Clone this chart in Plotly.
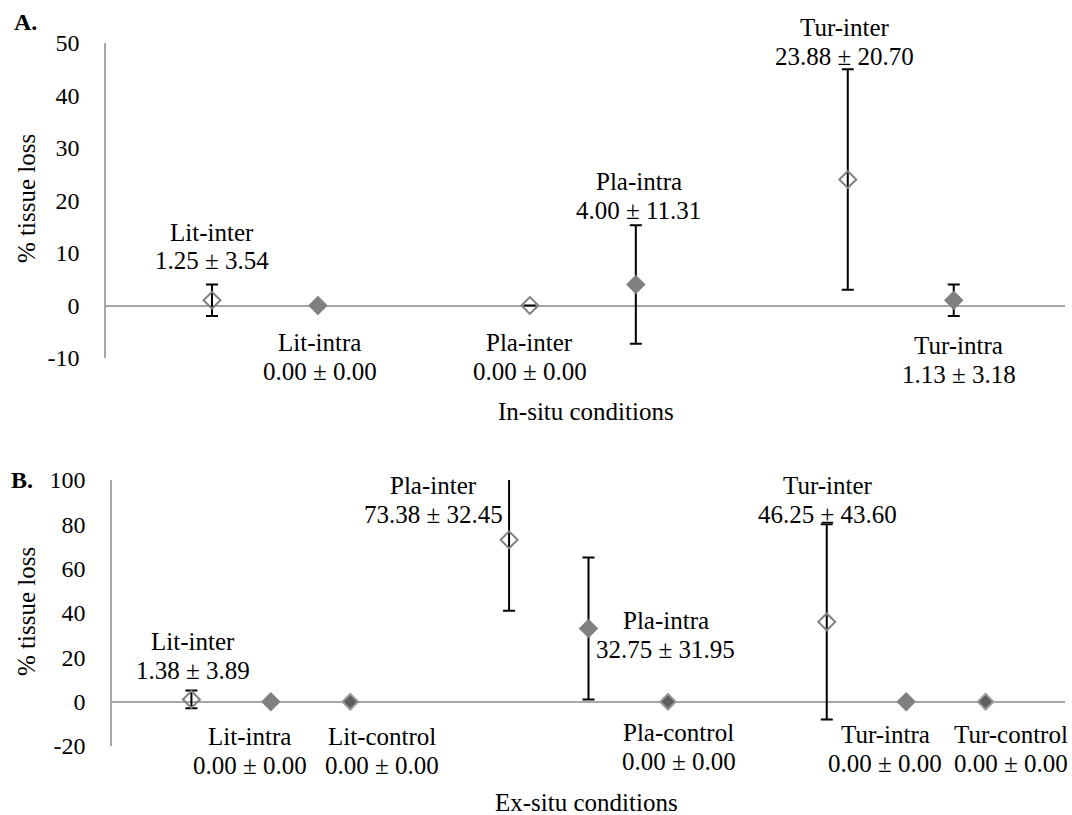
import plotly.graph_objects as go

# ---------------- data ----------------
# Panel A (in-situ)
a_inter_names = ["Lit-inter", "Pla-inter", "Tur-inter"]
a_inter_x = [2, 5, 8]
a_inter_y = [1, 0, 24]
a_inter_err = [3, 0, 21]
a_inter_stats = ["1.25 ± 3.54", "0.00 ± 0.00", "23.88 ± 20.70"]

a_intra_names = ["Lit-intra", "Pla-intra", "Tur-intra"]
a_intra_x = [3, 6, 9]
a_intra_y = [0, 4, 1]
a_intra_err = [0, 11.3, 3]
a_intra_stats = ["0.00 ± 0.00", "4.00 ± 11.31", "1.13 ± 3.18"]

# Panel B (ex-situ)
b_inter_names = ["Lit-inter", "Pla-inter", "Tur-inter"]
b_inter_x = [2, 6, 10]
b_inter_y = [1, 73, 36]
b_inter_err = [4, 32, 44]
b_inter_stats = ["1.38 ± 3.89", "73.38 ± 32.45", "46.25 ± 43.60"]

b_intra_names = ["Lit-intra", "Pla-intra", "Tur-intra"]
b_intra_x = [3, 7, 11]
b_intra_y = [0, 33, 0]
b_intra_err = [0, 32, 0]
b_intra_stats = ["0.00 ± 0.00", "32.75 ± 31.95", "0.00 ± 0.00"]

b_ctrl_names = ["Lit-control", "Pla-control", "Tur-control"]
b_ctrl_x = [4, 8, 12]
b_ctrl_y = [0, 0, 0]
b_ctrl_err = [0, 0, 0]
b_ctrl_stats = ["0.00 ± 0.00", "0.00 ± 0.00", "0.00 ± 0.00"]

a_ticks = [-10, 0, 10, 20, 30, 40, 50]
a_ticktext = ["-10", "0", "10", "20", "30", "40", "50"]
b_ticks = [-20, 0, 20, 40, 60, 80, 100]
b_ticktext = ["-20", "0", "20", "40", "60", "80", "100"]

# ---------------- layout helpers ----------------
W, H = 1072, 815
FONT = "Liberation Serif, Times New Roman, serif"
GRAY = "#808080"
AXIS = "#a6a6a6"

def px(x):
    return x / W

def py(y):
    return 1 - y / H

fig = go.Figure()

def add_series(x, y, err, xa, ya, style):
    if style == "open":
        marker = dict(symbol="diamond", size=13, color="rgba(255,255,255,0)",
                      line=dict(color=GRAY, width=2))
    elif style == "filled":
        marker = dict(symbol="diamond", size=15, color=GRAY,
                      line=dict(color=GRAY, width=0))
    else:
        marker = dict(symbol="diamond", size=12, color="#5e5e5e",
                      line=dict(color="#9a9a9a", width=2))
    fig.add_trace(go.Scatter(
        x=x, y=y, mode="markers", xaxis=xa, yaxis=ya, marker=marker,
        error_y=dict(type="data", array=err, visible=True, color="black",
                     thickness=2, width=6),
        showlegend=False, hoverinfo="skip"))

add_series(a_inter_x, a_inter_y, a_inter_err, "x", "y", "open")
add_series(a_intra_x, a_intra_y, a_intra_err, "x", "y", "filled")
add_series(b_inter_x, b_inter_y, b_inter_err, "x2", "y2", "open")
add_series(b_intra_x, b_intra_y, b_intra_err, "x2", "y2", "filled")
add_series(b_ctrl_x, b_ctrl_y, b_ctrl_err, "x2", "y2", "ctrl")

yaxis_common = dict(showline=True, linecolor=AXIS, linewidth=1.5,
                    zeroline=True, zerolinecolor=AXIS, zerolinewidth=1.5,
                    showgrid=False, ticks="", ticklabelstandoff=20, automargin=False,
                    tickfont=dict(family=FONT, size=24, color="black"))
xaxis_common = dict(visible=False, showgrid=False, zeroline=False, automargin=False)

fig.update_layout(
    template="none",
    width=W, height=H, margin=dict(l=0, r=0, t=0, b=0, pad=0),
    paper_bgcolor="white", plot_bgcolor="white", showlegend=False,
    xaxis=dict(domain=[px(106), px(1065)], range=[1, 10.05], anchor="y", **xaxis_common),
    yaxis=dict(domain=[py(358), py(43)], range=[-10, 50], tickvals=a_ticks,
               ticktext=a_ticktext, anchor="x", **yaxis_common),
    xaxis2=dict(domain=[px(112), px(1065)], range=[1, 13], anchor="y2", **xaxis_common),
    yaxis2=dict(domain=[py(746), py(480)], range=[-20, 100], tickvals=b_ticks,
                ticktext=b_ticktext, anchor="x2", **yaxis_common),
)

def label(xref, xval, dx, y1, name, stats):
    for txt, yy in ((name, y1), (stats, y1 + 29)):
        fig.add_annotation(x=xval, xref=xref, xshift=dx, y=py(yy), yref="paper",
                           text=txt, showarrow=False, xanchor="center", yanchor="middle",
                           font=dict(family=FONT, size=25, color="black"))

# label offsets (layout only): (dx px, y of first line px)
a_inter_pos = [(0, 232), (0, 342), (-3, 27)]
a_intra_pos = [(2, 342), (3, 181), (5, 345)]
b_inter_pos = [(2, 641), (-76, 485), (1, 485)]
b_intra_pos = [(-21, 736), (77, 620), (-21, 734)]
b_ctrl_pos = [(32, 736), (11, 732), (25, 734)]

for names, xs, stats, pos, xr in (
    (a_inter_names, a_inter_x, a_inter_stats, a_inter_pos, "x"),
    (a_intra_names, a_intra_x, a_intra_stats, a_intra_pos, "x"),
    (b_inter_names, b_inter_x, b_inter_stats, b_inter_pos, "x2"),
    (b_intra_names, b_intra_x, b_intra_stats, b_intra_pos, "x2"),
    (b_ctrl_names, b_ctrl_x, b_ctrl_stats, b_ctrl_pos, "x2"),
):
    for n, xv, s, (dx, y1) in zip(names, xs, stats, pos):
        label(xr, xv, dx, y1, n, s)

def text(x, y, t, size=25, angle=0, bold=False):
    fig.add_annotation(x=px(x), y=py(y), xref="paper", yref="paper", text=f"<b>{t}</b>" if bold else t,
                       showarrow=False, xanchor="center", yanchor="middle", textangle=angle,
                       font=dict(family=FONT, size=size, color="black"))

text(586, 411, "In-situ conditions")
text(586, 802, "Ex-situ conditions")
text(26, 199, "% tissue loss", angle=-90)
text(26, 612, "% tissue loss", angle=-90)
text(25, 22, "A.", size=24, bold=True)
text(22, 480, "B.", size=24, bold=True)

fig.write_html("out.html", config={"displayModeBar": False},
               post_script="document.body.style.margin='0px';document.body.style.overflow='hidden';")
